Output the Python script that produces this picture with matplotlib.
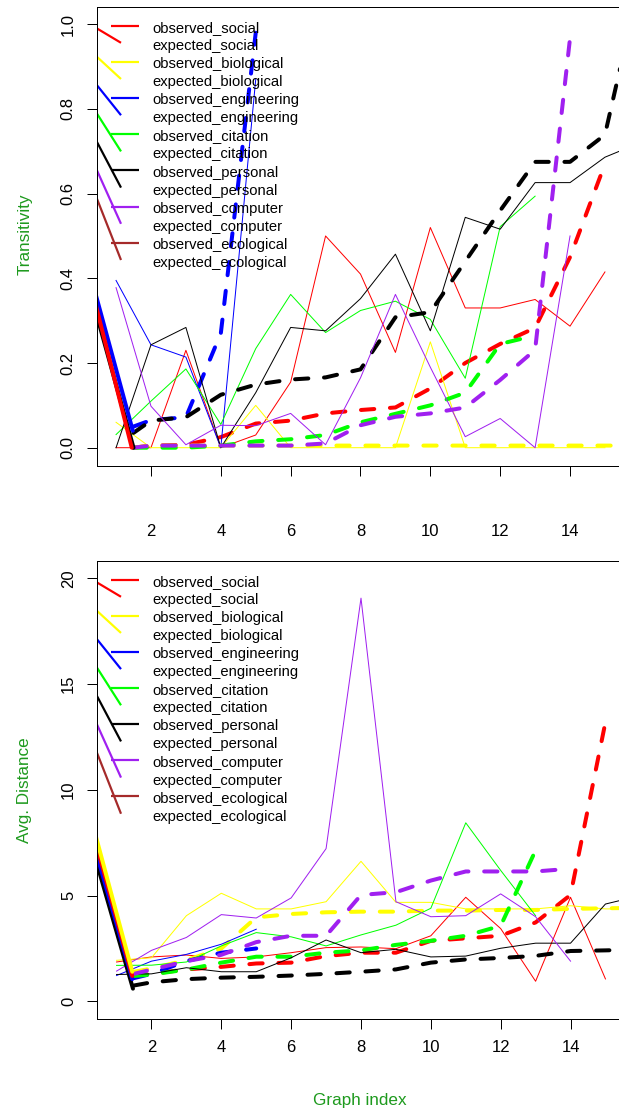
import matplotlib
matplotlib.use("Agg")
import matplotlib.pyplot as plt
import numpy as np

plt.rcParams['font.family'] = ['Liberation Sans', 'DejaVu Sans']
plt.rcParams['lines.scale_dashes'] = False

W, H = 619, 1113
DPI = 100

# ---------------- data ----------------
categories = ["social", "biological", "engineering", "citation", "personal", "computer", "ecological"]
colors = ["#FF0000", "#FFFF00", "#0000FF", "#00FF00", "#000000", "#A020F0", "#A52A2A"]
legend_labels = []
for c in categories:
    legend_labels += ["observed_" + c, "expected_" + c]

# Transitivity, observed (x = 1, 2, 3, ...)
obs_social_T = [0, 0, 0.23, 0, 0.03, 0.155, 0.5, 0.41, 0.225, 0.52, 0.33, 0.33, 0.35, 0.287, 0.415]
obs_bio_T = [0.06, 0, 0, 0, 0.1, 0, 0, 0, 0, 0.25, 0, 0, 0, 0, 0]
obs_eng_T = [0.395, 0.243, 0.214, 0, 0.87]
obs_cit_T = [0.031, 0.11, 0.186, 0.055, 0.234, 0.362, 0.272, 0.324, 0.346, 0.303, 0.164, 0.522, 0.594]
obs_pers_T = [0, 0.243, 0.284, 0, 0.13, 0.284, 0.276, 0.352, 0.457, 0.276, 0.544, 0.516, 0.626, 0.626, 0.686, 0.72]
obs_comp_T = [0.378, 0.098, 0.007, 0.053, 0.052, 0.081, 0.007, 0.165, 0.362, 0.19, 0.026, 0.069, 0, 0.5]
obs_eco_T = []

# Transitivity, expected (x = 1.5, 2, 3, ...)
exp_social_T = [0, 0.005, 0.007, 0.025, 0.057, 0.064, 0.081, 0.089, 0.095, 0.14, 0.2, 0.245, 0.283, 0.45, 0.67]
exp_bio_T = [0, 0.005, 0.005, 0.005, 0.005, 0.005, 0.005, 0.005, 0.005, 0.005, 0.005, 0.005, 0.005, 0.005, 0.005, 0.005]
exp_eng_T = [0.05, 0.065, 0.072, 0.27, 0.98]
exp_cit_T = [0, 0.0, 0.0, 0.005, 0.015, 0.02, 0.03, 0.06, 0.08, 0.1, 0.13, 0.245, 0.265]
exp_pers_T = [0.035, 0.064, 0.072, 0.125, 0.149, 0.161, 0.166, 0.185, 0.308, 0.32, 0.44, 0.56, 0.675, 0.675, 0.739, 1.1]
exp_comp_T = [0, 0.005, 0.005, 0.005, 0.005, 0.005, 0.01, 0.053, 0.073, 0.081, 0.095, 0.16, 0.231, 0.967]
exp_eco_T = []

# Avg. distance, observed
obs_social_B = [1.86, 2.1, 2.19, 2.03, 2.1, 2.3, 2.54, 2.57, 2.49, 3.1, 4.92, 3.44, 0.95, 4.92, 1.06]
obs_bio_B = [1.94, 2.06, 4.05, 5.11, 4.37, 4.37, 4.71, 6.62, 4.68, 4.68, 4.37, 4.37, 4.37, 4.52, 4.37, 4.37]
obs_eng_B = [1.22, 1.9, 2.22, 2.7, 3.41]
obs_cit_B = [1.7, 1.71, 1.86, 2.62, 3.25, 3.05, 2.62, 3.14, 3.6, 4.4, 8.44, 6.19, 4.05]
obs_pers_B = [1.27, 1.3, 1.59, 1.4, 1.4, 2.06, 2.9, 2.3, 2.46, 2.1, 2.14, 2.51, 2.75, 2.75, 4.6, 5.0]
obs_comp_B = [1.43, 2.41, 3.02, 4.1, 3.94, 4.89, 7.22, 19.06, 4.71, 4.0, 4.05, 5.08, 4.0, 1.9]
obs_eco_B = []

# Avg. distance, expected
exp_social_B = [1.2, 1.3, 1.51, 1.63, 1.79, 1.83, 2.14, 2.3, 2.3, 2.86, 2.98, 3.1, 3.73, 5.03, 13.2]
exp_bio_B = [1.4, 1.55, 1.95, 2.5, 3.97, 4.13, 4.21, 4.24, 4.24, 4.29, 4.29, 4.32, 4.32, 4.37, 4.4, 4.42]
exp_eng_B = [1.1, 1.3, 1.9, 2.3, 2.5]
exp_cit_B = [1.2, 1.27, 1.5, 1.83, 2.11, 2.11, 2.3, 2.41, 2.67, 2.86, 3.1, 3.57, 7.14]
exp_pers_B = [0.75, 0.9, 1.05, 1.12, 1.16, 1.22, 1.3, 1.4, 1.51, 1.83, 1.98, 2.05, 2.15, 2.38, 2.41, 2.45]
exp_comp_B = [1.3, 1.5, 1.9, 2.2, 2.8, 3.1, 3.1, 5.03, 5.16, 5.71, 6.14, 6.14, 6.14, 6.27]
exp_eco_B = []

# thick solid lead-in strokes at the left edge: (color index, x0, y0, x1, y1)
leadin_T = [(4, 0.44, 0.315, 1.50, 0.0), (2, 0.44, 0.355, 1.48, 0.04), (0, 0.44, 0.33, 1.45, 0.0)]
leadin_B = [(4, 0.44, 6.5, 1.47, 0.6), (2, 0.44, 6.9, 1.45, 1.05), (0, 0.44, 7.3, 1.45, 1.2), (1, 0.44, 7.6, 1.45, 1.4)]

x_ticks = [2, 4, 6, 8, 10, 12, 14]
yticks_T = [0.0, 0.2, 0.4, 0.6, 0.8, 1.0]
yticks_B = [0, 5, 10, 15, 20]

obs_T = [obs_social_T, obs_bio_T, obs_eng_T, obs_cit_T, obs_pers_T, obs_comp_T, obs_eco_T]
exp_T = [exp_social_T, exp_bio_T, exp_eng_T, exp_cit_T, exp_pers_T, exp_comp_T, exp_eco_T]
obs_B = [obs_social_B, obs_bio_B, obs_eng_B, obs_cit_B, obs_pers_B, obs_comp_B, obs_eco_B]
exp_B = [exp_social_B, exp_bio_B, exp_eng_B, exp_cit_B, exp_pers_B, exp_comp_B, exp_eco_B]

# ---------------- figure ----------------
fig = plt.figure(figsize=(W / DPI, H / DPI), dpi=DPI)
PX = 0.72  # points per pixel at 100 dpi
LABEL_GREEN = "#1E9A1E"

def add_axes_px(left, top, right, bottom):
    return fig.add_axes([left / W, 1 - bottom / H, (right - left) / W, (bottom - top) / H])

def fp(x, y):
    return x / W, 1 - y / H

def draw_panel(ax, obs, exp, leadin, ylim, yticks, ytick_fmt, leg_top, leg_step, xpad):
    ax.set_xlim(0.44, 15.56)
    ax.set_ylim(*ylim)
    for sp in ax.spines.values():
        sp.set_linewidth(1.0 * PX)
    ax.set_xticks(x_ticks)
    ax.set_xticklabels([str(t) for t in x_ticks])
    ax.set_yticks(yticks)
    ax.set_yticklabels([ytick_fmt(t) for t in yticks], rotation=90, va="center")
    ax.tick_params(length=10 * PX, width=1.0 * PX, labelsize=12)
    ax.tick_params(axis="y", pad=11 * PX)
    ax.tick_params(axis="x", pad=xpad * PX)
    for i in range(len(categories)):
        col = colors[i]
        o = obs[i]
        if len(o):
            ax.plot(np.arange(1, len(o) + 1), o, color=col, lw=1.0 * PX, solid_joinstyle="round")
        e = exp[i]
        if len(e):
            xe = np.concatenate([[1.5], np.arange(2, len(e) + 1)])
            ln, = ax.plot(xe, e, color=col, lw=4 * PX, dash_capstyle="round",
                          dash_joinstyle="round")
            ln.set_dashes((13.3 * PX, 15.7 * PX))
    for (ci, x0, y0, x1, y1) in leadin:
        ax.plot([x0 - 0.5, x1], [y0 + (y0 - y1) / (x1 - x0) * 0.5, y1], color=colors[ci],
                lw=4 * PX, solid_capstyle="round")
    # legend
    for k, lab in enumerate(legend_labels):
        y = leg_top + k * leg_step
        x, yy = fp(152, y)
        fig.text(x, yy, lab, fontsize=10.6, va="center", ha="left")
    for i in range(len(categories)):
        y_obs = leg_top + 2 * i * leg_step - 2.2
        y_exp = leg_top + (2 * i + 1) * leg_step - 2.2
        xa, ya = fp(110.7, y_obs)
        xb, yb = fp(139, y_obs)
        ax.plot([xa, xb], [ya, yb], transform=fig.transFigure, color=colors[i], lw=2.2 * PX,
                solid_capstyle="butt")
        # diagonal stroke ending at the expected row
        y_left = leg_top + 0.6 + i * 28.3
        y_right = y_exp - 0.8
        slope = (y_right - y_left) / (121 - 96.7)
        xs, ys = fp(60, y_left - slope * (96.7 - 60))
        xe_, ye_ = fp(121, y_right)
        ax.plot([xs, xe_], [ys, ye_], transform=fig.transFigure, color=colors[i], lw=2.2 * PX,
                solid_capstyle="butt")

axT = add_axes_px(96.5, 7.3, 624.5, 465.7)
draw_panel(axT, obs_T, exp_T, leadin_T, (-0.0425, 1.040), yticks_T, lambda t: f"{t:.1f}", 27.7, 18.1, 48)

axB = add_axes_px(97.0, 560.7, 625.0, 1018.7)
draw_panel(axB, obs_B, exp_B, leadin_B, (-0.82, 20.83), yticks_B, lambda t: f"{t:d}", 581.7, 18.08, 11)

x, y = fp(25, 234)
fig.text(x, y, "Transitivity", rotation=90, color=LABEL_GREEN, fontsize=12.3, ha="center", va="center")
x, y = fp(25, 790)
fig.text(x, y, "Avg. Distance", rotation=90, color=LABEL_GREEN, fontsize=12.3, ha="center", va="center")
x, y = fp(360, 1100)
fig.text(x, y, "Graph index", color=LABEL_GREEN, fontsize=12.3, ha="center", va="center")

fig.savefig("out.png", dpi=DPI)
